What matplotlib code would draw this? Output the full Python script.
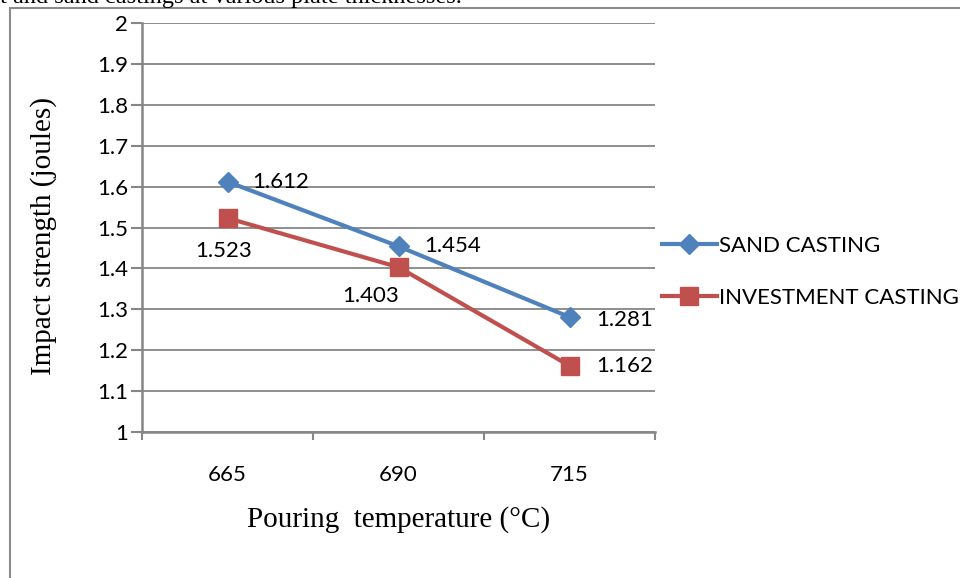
import matplotlib
matplotlib.use('Agg')
import matplotlib.pyplot as plt
from matplotlib.lines import Line2D
from matplotlib.patches import Rectangle

temps = ['665', '690', '715']
sand = [1.612, 1.454, 1.281]
investment = [1.523, 1.403, 1.162]

blue = '#4F81BD'
red = '#C0504D'
grid = '#868686'
sans = 'Lato'
serif = 'Liberation Serif'
fs = 16

fig = plt.figure(figsize=(9.6, 5.78), dpi=100)
ax = fig.add_axes([142/960, 1-432/578, (655-142)/960, (432-23)/578])

x = list(range(len(temps)))
ax.plot(x, sand, color=blue, lw=3, marker='D', ms=10, mec=blue, mfc=blue, label='SAND CASTING', zorder=4)
ax.plot(x, investment, color=red, lw=3, marker='s', ms=13, mec=red, mfc=red, label='INVESTMENT CASTING', zorder=3)

ax.set_xlim(-0.5, 2.5)
ax.set_ylim(1, 2)
ax.set_yticks([1 + i/10 for i in range(11)])
ax.set_yticklabels(['1', '1.1', '1.2', '1.3', '1.4', '1.5', '1.6', '1.7', '1.8', '1.9', '2'])
ax.set_xticks([-0.5, 0.5, 1.5, 2.5])
ax.set_xticklabels([])
ax.set_xticks(x, minor=True)
ax.set_xticklabels(temps, minor=True)
ax.tick_params(axis='x', which='minor', length=0, pad=24, labelsize=fs)
ax.tick_params(axis='x', which='major', length=6, width=1.5, color=grid, direction='out')
ax.tick_params(axis='y', length=8, width=1.5, color=grid, labelsize=fs, pad=2)
for lbl in ax.get_xticklabels(minor=True) + ax.get_yticklabels():
    lbl.set_fontfamily(sans)

ax.grid(axis='y', color=grid, lw=1.3)
ax.set_axisbelow(True)
for side in ['top', 'right']:
    ax.spines[side].set_visible(False)
for side in ['left', 'bottom']:
    ax.spines[side].set_color(grid)
    ax.spines[side].set_linewidth(1.8)

# value labels next to each point (offsets in pixels)
offsets_sand = [(25, 0, 'left', 'center'), (26, 0, 'left', 'center'), (27, -3, 'left', 'center')]
offsets_inv = [(-4, -23, 'center', 'top'), (-28, -19, 'center', 'top'), (27, 0, 'left', 'center')]
for vals, offs in [(sand, offsets_sand), (investment, offsets_inv)]:
    for xi, v, (dx, dy, ha, va) in zip(x, vals, offs):
        ax.annotate(f'{v:.3f}', (xi, v), xytext=(dx*0.72, dy*0.72), textcoords='offset points',
                    ha=ha, va=va, fontsize=fs, family=sans)

ax.set_ylabel('Impact strength (joules)', family=serif, fontsize=21)
ax.yaxis.set_label_coords((57-142)/513, (432-236)/409)
ax.set_xlabel('Pouring  temperature (°C)', family=serif, fontsize=21, labelpad=15)

handles = [Line2D([], [], color=blue, lw=3, marker='D', ms=10),
           Line2D([], [], color=red, lw=3, marker='s', ms=13)]
fig.legend(handles, ['SAND CASTING', 'INVESTMENT CASTING'], loc='upper left',
           bbox_to_anchor=(646/960, 1-220/578), frameon=False, handlelength=2.5,
           handletextpad=0.1, labelspacing=1.45, borderaxespad=0.3,
           prop={'family': sans, 'size': fs})

# surrounding frame and the caption line above it
fig.patches.append(Rectangle((10/960, -0.1), 1.2, 1.1 - 8/578, transform=fig.transFigure,
                             fill=False, ec='#8c8c8c', lw=1.5))
fig.text(0, 1 - 3/578, 't and sand castings at various plate thicknesses.', family=serif,
         fontsize=17.5, va='baseline', ha='left')

fig.savefig('out.png', dpi=100)
